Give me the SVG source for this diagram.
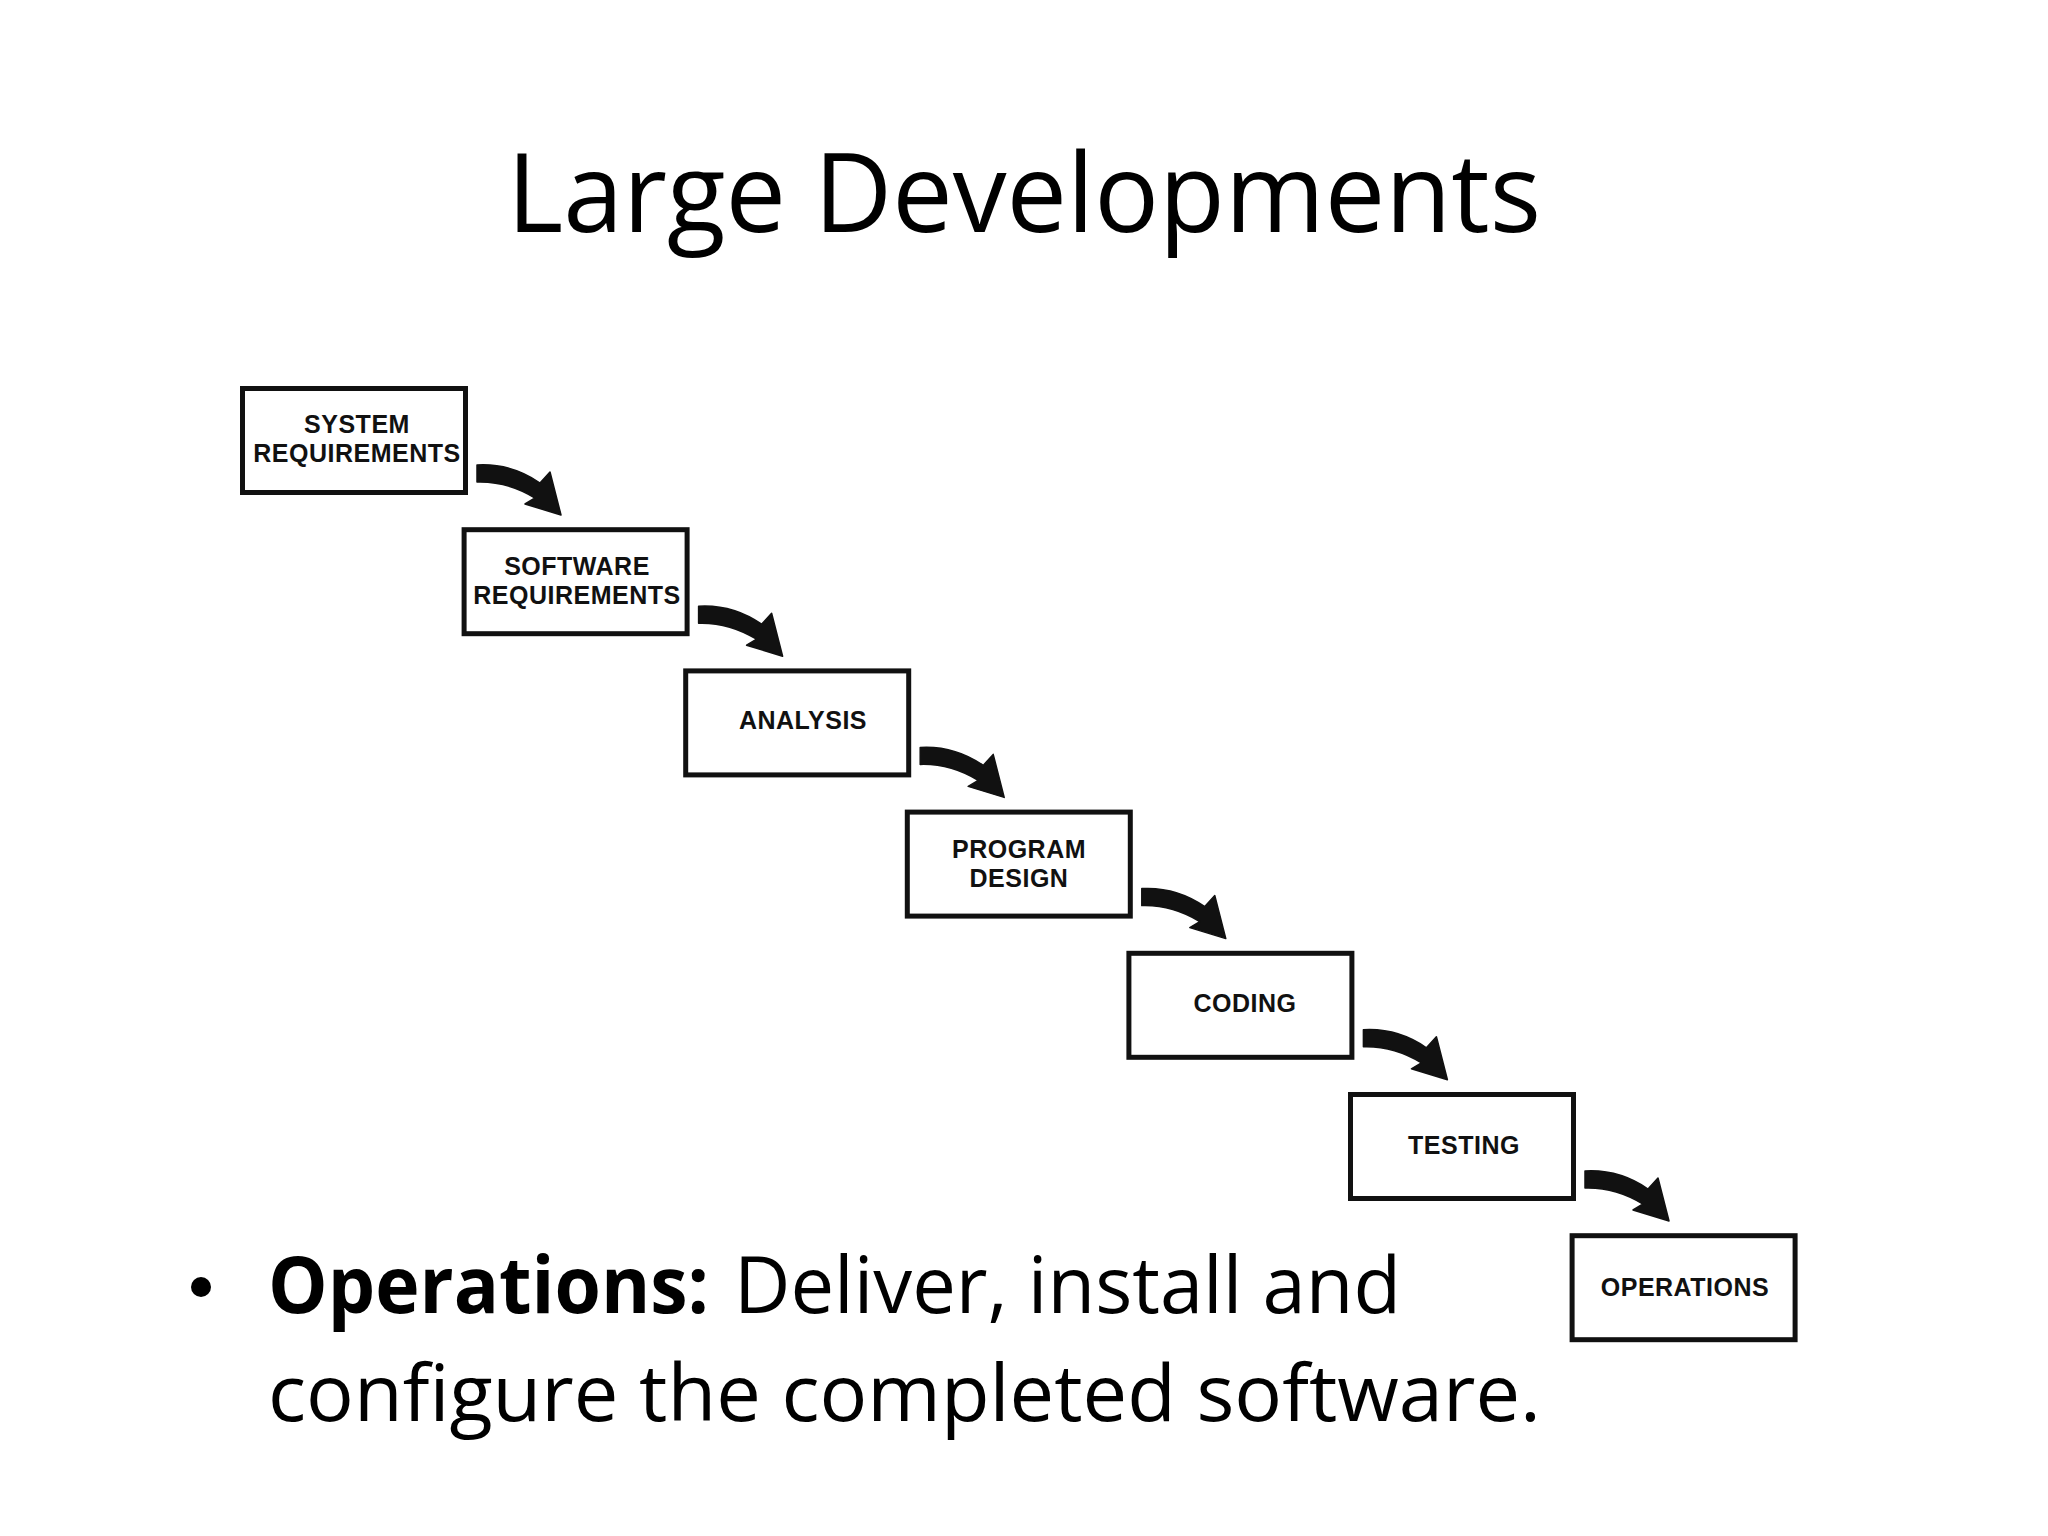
<svg xmlns="http://www.w3.org/2000/svg" xmlns:xlink="http://www.w3.org/1999/xlink" width="2048" height="1536" viewBox="0 0 2048 1536">
<style>
.box{fill:#fff;stroke:#111;stroke-width:5}
.lbl{font-family:"Liberation Sans",Arial,sans-serif;font-weight:bold;font-size:25px;fill:#111;text-anchor:middle;letter-spacing:0.5px}
.title{font-family:"Open Sans","Noto Sans",sans-serif;font-size:110px;fill:#000}
.body{font-family:"Open Sans","Noto Sans",sans-serif;font-size:79px;fill:#000}
.arrow{fill:#111;stroke:#111;stroke-width:1.5;stroke-linejoin:round}
</style>
<defs>
<path id="arr" class="arrow" d="M477,465 Q511,463 540,483 L550,472 L561,515 L525,504 L535,498 Q507,481 477,482 Z"/>
</defs>
<rect width="2048" height="1536" fill="#fff"/>
<text class="title" x="507" y="232" textLength="1034" lengthAdjust="spacingAndGlyphs">Large Developments</text>

<g id="connectors">
<use xlink:href="#arr"/>
<use xlink:href="#arr" transform="translate(221.6,141.2)"/>
<use xlink:href="#arr" transform="translate(443.2,282.4)"/>
<use xlink:href="#arr" transform="translate(664.8,423.6)"/>
<use xlink:href="#arr" transform="translate(886.4,564.8)"/>
<use xlink:href="#arr" transform="translate(1108,706)"/>
</g>

<g id="system-requirements">
<rect class="box" x="242.5" y="388.5" width="223" height="104"/>
<text class="lbl" x="357" y="433">SYSTEM</text>
<text class="lbl" x="357" y="462">REQUIREMENTS</text>
</g>
<g id="software-requirements">
<rect class="box" x="464.1" y="529.7" width="223" height="104"/>
<text class="lbl" x="577" y="575">SOFTWARE</text>
<text class="lbl" x="577" y="604">REQUIREMENTS</text>
</g>
<g id="analysis">
<rect class="box" x="685.7" y="670.9" width="223" height="104"/>
<text class="lbl" x="803" y="729">ANALYSIS</text>
</g>
<g id="program-design">
<rect class="box" x="907.3" y="812.1" width="223" height="104"/>
<text class="lbl" x="1019" y="858">PROGRAM</text>
<text class="lbl" x="1019" y="887">DESIGN</text>
</g>
<g id="coding">
<rect class="box" x="1128.9" y="953.3" width="223" height="104"/>
<text class="lbl" x="1245" y="1012">CODING</text>
</g>
<g id="testing">
<rect class="box" x="1350.5" y="1094.5" width="223" height="104"/>
<text class="lbl" x="1464" y="1154">TESTING</text>
</g>
<g id="operations">
<rect class="box" x="1572.1" y="1235.7" width="223" height="104"/>
<text class="lbl" x="1685" y="1296">OPERATIONS</text>
</g>

<circle cx="201" cy="1287" r="10" fill="#000"/>
<text class="body" x="268" y="1313" font-weight="bold" textLength="441" lengthAdjust="spacingAndGlyphs">Operations:</text>
<text class="body" x="734" y="1313" textLength="667" lengthAdjust="spacingAndGlyphs">Deliver, install and</text>
<text class="body" x="268" y="1421" textLength="1273" lengthAdjust="spacingAndGlyphs">configure the completed software.</text>
</svg>
